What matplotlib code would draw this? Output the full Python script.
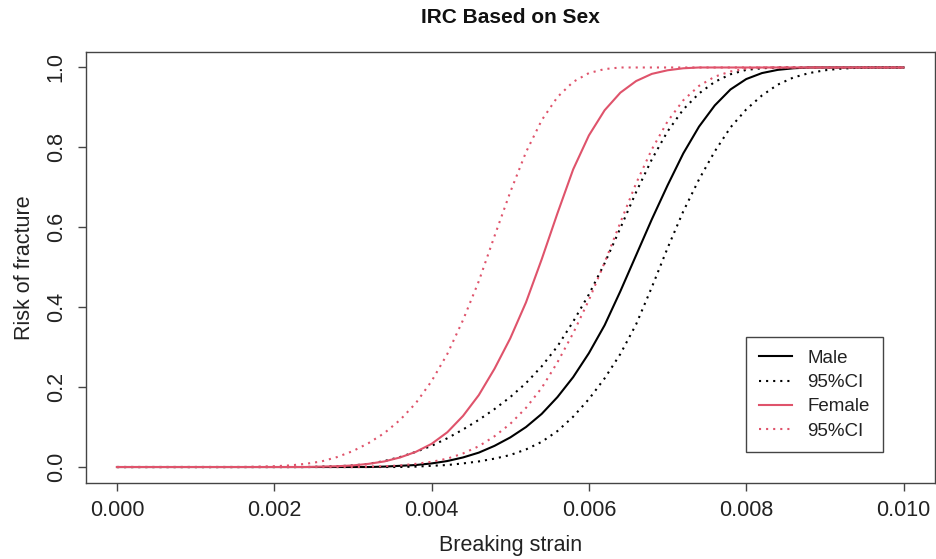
import matplotlib
matplotlib.use('Agg')
import matplotlib.pyplot as plt

# Breaking strain vs. risk of fracture, by sex (curve + 95% CI bands)
male_x = [0.0, 0.0032, 0.0034, 0.0036, 0.0038, 0.0040, 0.0042, 0.0044, 0.0046, 0.0048,
          0.0050, 0.0052, 0.0054, 0.0056, 0.0058, 0.0060, 0.0062, 0.0064, 0.0066,
          0.0068, 0.0070, 0.0072, 0.0074, 0.0076, 0.0078, 0.0080, 0.0082, 0.0084,
          0.0086, 0.0088, 0.010]
male_y = [0.0, 0.0, 0.001, 0.003, 0.005, 0.009, 0.015, 0.024, 0.036, 0.053,
          0.074, 0.100, 0.133, 0.175, 0.225, 0.285, 0.355, 0.440, 0.530,
          0.620, 0.705, 0.785, 0.852, 0.905, 0.945, 0.971, 0.986, 0.994,
          0.998, 1.0, 1.0]

male_hi_x = [0.0, 0.0024, 0.0026, 0.0028, 0.0030, 0.0032, 0.0034, 0.0036, 0.0038, 0.0040,
             0.0042, 0.0044, 0.0046, 0.0048, 0.0050, 0.0052, 0.0054, 0.0056, 0.0058,
             0.0060, 0.0062, 0.0064, 0.0066, 0.0068, 0.0070, 0.0072, 0.0074, 0.0076,
             0.0078, 0.0080, 0.0082, 0.0084, 0.010]
male_hi_y = [0.0, 0.0, 0.001, 0.002, 0.004, 0.008, 0.015, 0.025, 0.038, 0.053,
             0.072, 0.094, 0.118, 0.145, 0.175, 0.210, 0.252, 0.302, 0.364,
             0.432, 0.510, 0.598, 0.688, 0.770, 0.840, 0.895, 0.935, 0.964,
             0.983, 0.994, 0.998, 1.0, 1.0]

male_lo_x = [0.0, 0.0036, 0.0038, 0.0040, 0.0042, 0.0044, 0.0046, 0.0048, 0.0050, 0.0052,
             0.0054, 0.0056, 0.0058, 0.0060, 0.0062, 0.0064, 0.0066, 0.0068, 0.0070,
             0.0072, 0.0074, 0.0076, 0.0078, 0.0080, 0.0082, 0.0084, 0.0086, 0.0088,
             0.0090, 0.0092, 0.0094, 0.0096, 0.010]
male_lo_y = [0.0, 0.0, 0.001, 0.003, 0.005, 0.009, 0.014, 0.021, 0.030, 0.044,
             0.063, 0.090, 0.126, 0.170, 0.222, 0.283, 0.357, 0.450, 0.548,
             0.640, 0.720, 0.790, 0.850, 0.895, 0.930, 0.957, 0.975, 0.986,
             0.993, 0.997, 0.999, 1.0, 1.0]

female_x = [0.0, 0.0024, 0.0026, 0.0028, 0.0030, 0.0032, 0.0034, 0.0036, 0.0038, 0.0040,
            0.0042, 0.0044, 0.0046, 0.0048, 0.0050, 0.0052, 0.0054, 0.0056, 0.0058,
            0.0060, 0.0062, 0.0064, 0.0066, 0.0068, 0.0070, 0.0072, 0.0074, 0.010]
female_y = [0.0, 0.0, 0.001, 0.002, 0.004, 0.008, 0.014, 0.024, 0.038, 0.058,
            0.087, 0.128, 0.180, 0.246, 0.322, 0.412, 0.520, 0.635, 0.745,
            0.830, 0.893, 0.937, 0.966, 0.984, 0.993, 0.998, 1.0, 1.0]

female_hi_x = [0.0, 0.0016, 0.0018, 0.0020, 0.0022, 0.0024, 0.0026, 0.0028, 0.0030, 0.0032,
               0.0034, 0.0036, 0.0038, 0.0040, 0.0042, 0.0044, 0.0046, 0.0048, 0.0050,
               0.0052, 0.0054, 0.0056, 0.0058, 0.0060, 0.0062, 0.0064, 0.010]
female_hi_y = [0.0, 0.0, 0.001, 0.002, 0.004, 0.008, 0.014, 0.025, 0.040, 0.060,
               0.085, 0.118, 0.160, 0.215, 0.283, 0.368, 0.465, 0.578, 0.688,
               0.788, 0.868, 0.926, 0.964, 0.986, 0.996, 1.0, 1.0]

female_lo_x = [0.0, 0.0030, 0.0032, 0.0034, 0.0036, 0.0038, 0.0040, 0.0042, 0.0044, 0.0046,
               0.0048, 0.0050, 0.0052, 0.0054, 0.0056, 0.0058, 0.0060, 0.0062, 0.0064,
               0.0066, 0.0068, 0.0070, 0.0072, 0.0074, 0.0076, 0.0078, 0.0080, 0.0082,
               0.010]
female_lo_y = [0.0, 0.0, 0.001, 0.002, 0.004, 0.008, 0.013, 0.021, 0.034, 0.052,
               0.077, 0.108, 0.148, 0.198, 0.262, 0.335, 0.418, 0.512, 0.612,
               0.710, 0.795, 0.865, 0.918, 0.954, 0.977, 0.990, 0.997, 1.0,
               1.0]

x_ticks = [0.000, 0.002, 0.004, 0.006, 0.008, 0.010]
x_tick_labels = ['0.000', '0.002', '0.004', '0.006', '0.008', '0.010']
y_ticks = [0.0, 0.2, 0.4, 0.6, 0.8, 1.0]
y_tick_labels = ['0.0', '0.2', '0.4', '0.6', '0.8', '1.0']

plt.rcParams['font.family'] = ['Liberation Sans', 'DejaVu Sans']

RED = '#DF536B'
DOT = (0, (1, 2.4))
AX_COL = '#444444'

fig = plt.figure(figsize=(9.36, 5.59), dpi=100)
ax = fig.add_axes([85.5 / 936, (559 - 483) / 559, (935 - 85.5) / 936, (483 - 51.5) / 559])

ax.plot(male_x, male_y, color='black', lw=1.5, label='Male')
ax.plot(male_hi_x, male_hi_y, color='black', lw=1.5, ls=DOT, label='95%CI')
ax.plot(male_lo_x, male_lo_y, color='black', lw=1.5, ls=DOT)
ax.plot(female_x, female_y, color=RED, lw=1.5, label='Female')
ax.plot(female_hi_x, female_hi_y, color=RED, lw=1.5, ls=DOT, label='95%CI')
ax.plot(female_lo_x, female_lo_y, color=RED, lw=1.5, ls=DOT)

ax.set_xlim(-0.0004, 0.0104)
ax.set_ylim(-0.04, 1.04)

ax.set_xticks(x_ticks)
ax.set_xticklabels(x_tick_labels)
ax.set_yticks(y_ticks)
ax.set_yticklabels(y_tick_labels, rotation=90, va='center')
ax.tick_params(axis='both', direction='out', length=5.5, width=1, color=AX_COL,
               labelsize=15.5, labelcolor='#222222')
ax.tick_params(axis='x', pad=7)
ax.tick_params(axis='y', pad=8)

for sp in ax.spines.values():
    sp.set_color(AX_COL)
    sp.set_linewidth(1)

ax.set_xlabel('Breaking strain', fontsize=15.5, color='#222222', va='center')
ax.xaxis.set_label_coords(0.5, -62 / 431.5)
ax.set_ylabel('Risk of fracture', fontsize=15.5, color='#222222', va='center')
ax.yaxis.set_label_coords(-61 / 849.5, 0.5)

fig.text(510 / 936, 1 - 17.5 / 559, 'IRC Based on Sex', ha='center', va='center',
         fontsize=15, fontweight='bold', color='#111111')

leg = ax.legend(loc='upper left', bbox_to_anchor=((746 - 85.5) / 849.5, (483 - 337) / 431.5),
                fontsize=13.5, frameon=True, fancybox=False, framealpha=1,
                handlelength=1.75, handletextpad=0.85, labelspacing=0.38,
                borderpad=0.68, borderaxespad=0)
leg.get_frame().set_edgecolor(AX_COL)
leg.get_frame().set_linewidth(1)
for t in leg.get_texts():
    t.set_color('#222222')

fig.savefig('out.png', dpi=100)
